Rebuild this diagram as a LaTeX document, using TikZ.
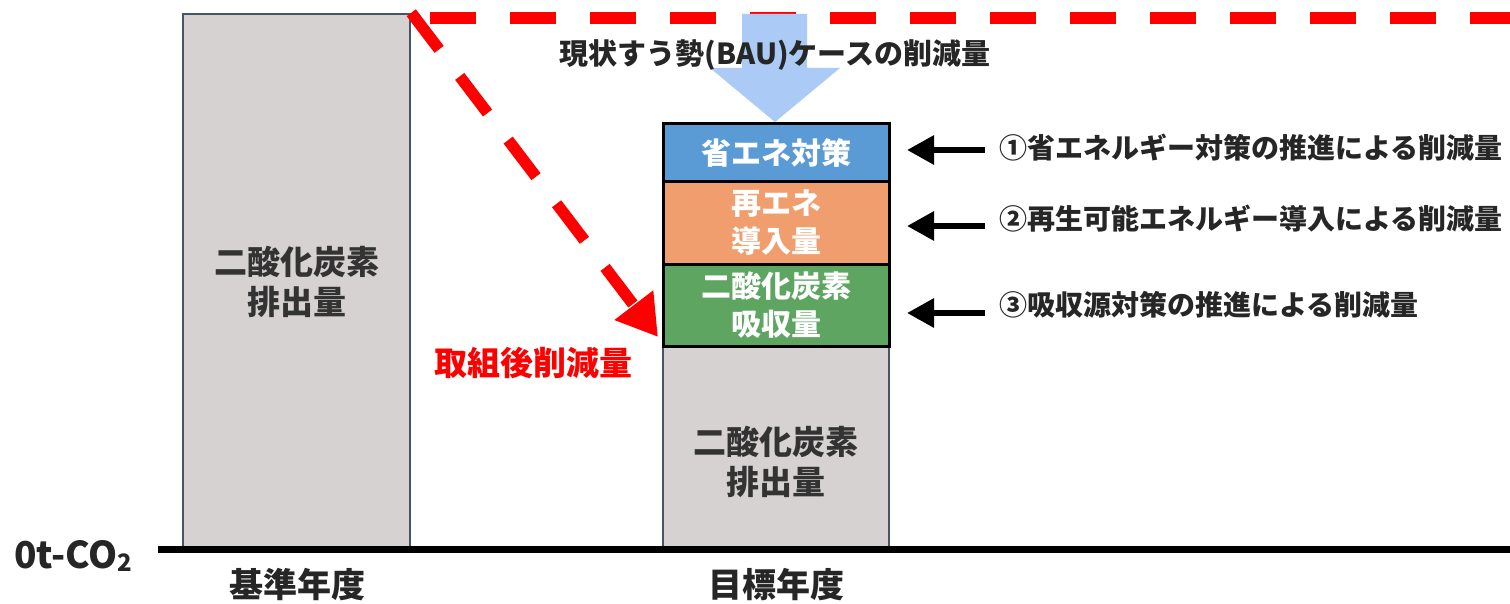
\documentclass[tikz,border=0pt]{standalone}
\usepackage{fontspec}
\setmainfont{Noto Sans CJK JP}
\usetikzlibrary{arrows.meta}
\definecolor{barg}{HTML}{D6D2D1}
\definecolor{slate}{HTML}{44546A}
\definecolor{txtg}{HTML}{333333}
\definecolor{dk}{HTML}{262626}
\definecolor{eblue}{HTML}{5B9BD5}
\definecolor{eorange}{HTML}{F19E6F}
\definecolor{egreen}{HTML}{5EA561}
\definecolor{baublue}{HTML}{ABCAF6}
\definecolor{pure}{HTML}{FF0000}
\tikzset{
  graybar/.style={draw=slate, line width=2.5pt, fill=barg, inner sep=0pt, text=txtg, align=center, font=\bfseries\fontsize{33}{40}\selectfont},
  stackbox/.style={draw=black, line width=3pt, inner sep=0pt, text=white, align=center, minimum width=226pt, font=\bfseries\fontsize{30}{38}\selectfont},
  bigtxt/.style={text=txtg, align=center, inner sep=0pt, font=\bfseries\fontsize{33}{40}\selectfont},
  axtxt/.style={text=dk, inner sep=0pt, font=\bfseries\fontsize{34}{38}\selectfont},
  reclabel/.style={text=dk, anchor=west, inner sep=0pt, font=\bfseries\fontsize{28}{32}\selectfont},
  redash/.style={draw=pure, line width=11.5pt, dash pattern=on 46pt off 34pt},
  blkarrow/.style={draw=black, line width=6pt, -{Triangle[length=27pt,width=28pt]}},
}
\begin{document}
\begin{tikzpicture}[x=1pt,y=-1pt]
\useasboundingbox (0,0) rectangle (1510,604);
% red dashed horizontal
\coordinate (hstart) at (410,18);
\coordinate (hend) at (1510,18);
\draw[redash, dash phase=60pt] (hstart) -- (hend);
% left bar
\node[graybar, minimum width=227pt, minimum height=535pt] (base) at (296.5,281.5) {二酸化炭素\\排出量};
% right gray bar
\node[graybar, minimum width=226pt, minimum height=203pt] (rest) at (776,447.5) {};
\node[bigtxt] (resttxt) at (776,462) {二酸化炭素\\排出量};
% stack
\node[stackbox, fill=eblue, minimum height=58pt] (s1) at (776,153) {省エネ対策};
\node[stackbox, fill=eorange, minimum height=82pt] (s2) at (776,223) {再エネ\\導入量};
\node[stackbox, fill=egreen, minimum height=82pt] (s3) at (776,305) {二酸化炭素\\吸収量};
% baseline
\coordinate (bl) at (158,549);
\coordinate (br) at (1510,549);
\draw[line width=7pt] (bl) -- (br);
\node[axtxt, anchor=west, font=\bfseries\fontsize{37}{40}\selectfont] (zero) at (14,556) {0t-CO{\fontsize{24}{24}\selectfont\raisebox{-0.15em}{2}}};
\node[axtxt] (yr1) at (297,585) {基準年度};
\node[axtxt] (yr2) at (776,585) {目標年度};
% BAU arrow
\fill[baublue] (742,14) -- (807,14) -- (807,68) -- (840,68) -- (775,122) -- (710,68) -- (742,68) -- cycle;
\node[text=dk, inner sep=0pt, font=\bfseries\fontsize{29}{32}\selectfont] (bau) at (775,55) {現状すう勢(BAU)ケースの削減量};
% red diagonal arrow
\coordinate (tip) at (658,337);
\draw[redash, -{Triangle[length=40pt,width=46pt]}] (base.north east) -- (tip);
\node[text=pure, inner sep=0pt, font=\bfseries\fontsize{33}{40}\selectfont] (after) at (533,363) {取組後削減量};
% right labels and arrows
\node[reclabel] (l1) at (999,148) {①省エネルギー対策の推進による削減量};
\node[reclabel] (l2) at (999,219) {②再生可能エネルギー導入による削減量};
\node[reclabel] (l3) at (999,305) {③吸収源対策の推進による削減量};
\draw[blkarrow] ([xshift=-14pt,yshift=-2pt]l1.west) -- ([xshift=-92pt,yshift=-2pt]l1.west);
\draw[blkarrow] ([xshift=-14pt,yshift=-7pt]l2.west) -- ([xshift=-92pt,yshift=-7pt]l2.west);
\draw[blkarrow] ([xshift=-14pt,yshift=-8pt]l3.west) -- ([xshift=-92pt,yshift=-8pt]l3.west);
\end{tikzpicture}
\end{document}
